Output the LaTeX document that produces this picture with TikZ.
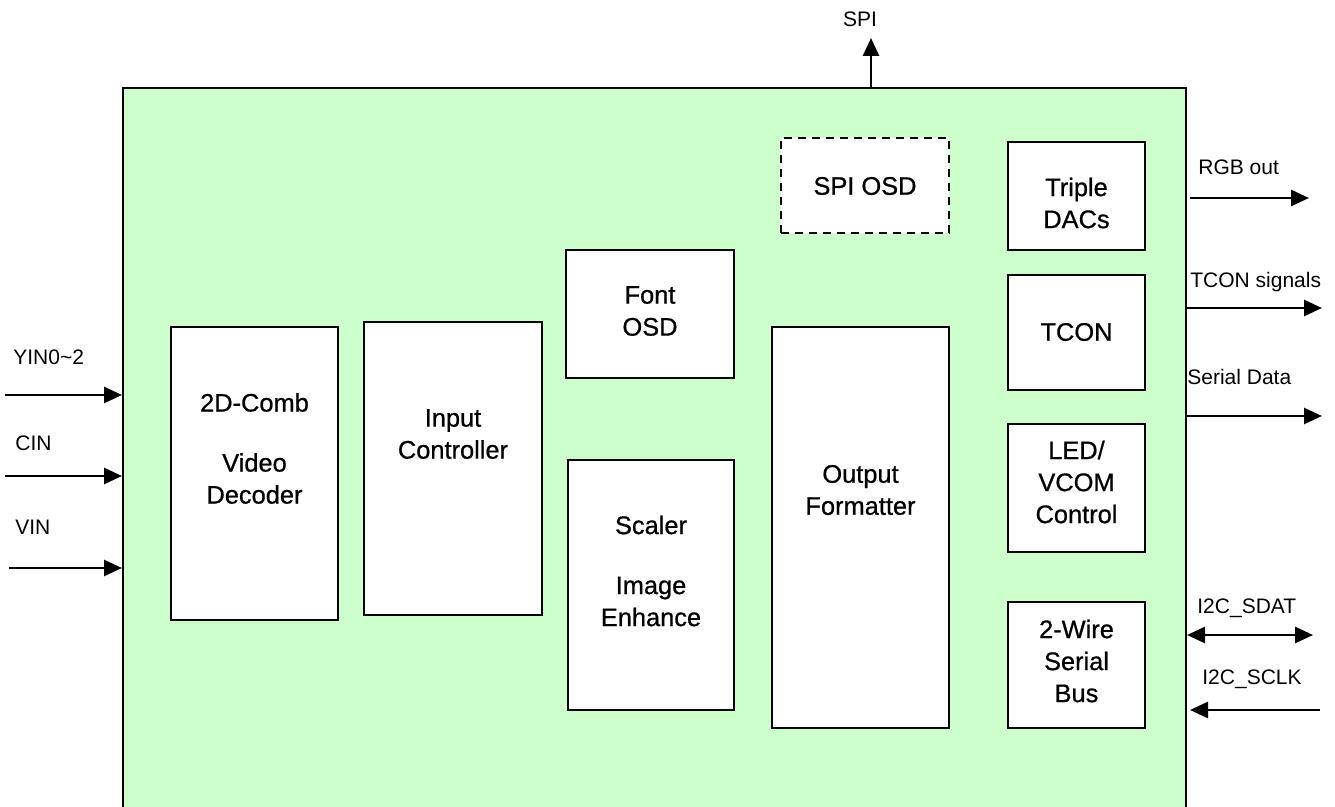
\documentclass[tikz,border=0pt]{standalone}
\usepackage{fontspec}
\setmainfont{Liberation Sans}
\newfontfamily\blkfam{Liberation Sans}[FakeBold=0.7]
\usepackage{tikz}
\usetikzlibrary{arrows.meta}

\definecolor{chipgreen}{HTML}{CCFFCC}
\newcommand{\blkfont}{\blkfam\fontsize{12.7}{16}\selectfont}
\newcommand{\lblfont}{\fontsize{10.5}{12.6}\selectfont}

\tikzset{
  blk/.style={draw,line width=1pt,fill=white,inner sep=0pt},
  txt/.style={align=center,inner sep=0pt,font=\blkfont},
  lbl/.style={inner sep=0pt,font=\lblfont,anchor=base west},
  arr/.style={line width=1.4pt,-{Triangle[length=9pt,width=8pt]}},
  biarr/.style={line width=1.4pt,{Triangle[length=9pt,width=8pt]}-{Triangle[length=9pt,width=8pt]}}
}

\begin{document}
\begin{tikzpicture}[x=0.5pt,y=-0.5pt]
\clip (0,0) rectangle (1335,807);

% chip outline, runs off the bottom
\node[draw,line width=1pt,fill=chipgreen,minimum width=531.5pt,minimum height=406pt] (chip) at (654.5,494) {};

% inner blocks
\node[blk,minimum width=83.5pt,minimum height=146.5pt] (dec) at (254.5,473.5) {};
\node[txt] (dectxt) at (254.5,448.5) {2D-Comb\\[14pt]Video\\Decoder};

\node[blk,minimum width=89pt,minimum height=146.5pt] (ic) at (453,468.5) {};
\node[txt] (ictxt) at (453,434) {Input\\Controller};

\node[blk,minimum width=84pt,minimum height=64pt] (fosd) at (650,314) {};
\node[txt] (fosdtxt) at (650,311) {Font\\OSD};

\node[blk,minimum width=83pt,minimum height=125pt] (scal) at (651,585) {};
\node[txt] (scaltxt) at (651,571) {Scaler\\[14pt]Image\\Enhance};

\node[blk,minimum width=88.5pt,minimum height=200.5pt] (of) at (860.5,527.5) {};
\node[txt] (oftxt) at (860.5,490) {Output\\Formatter};

\node[blk,dashed,dash pattern=on 4pt off 3pt,minimum width=84pt,minimum height=47.5pt] (sosd) at (865,185.5) {};
\node[txt] (sosdtxt) at (865,186) {SPI OSD};

\node[blk,minimum width=68.5pt,minimum height=54pt] (dac) at (1076.5,196) {};
\node[txt] (dactxt) at (1076.5,203) {Triple\\DACs};

\node[blk,minimum width=68.5pt,minimum height=57.5pt] (tcon) at (1076.5,332.5) {};
\node[txt] (tcontxt) at (1076.5,332) {TCON};

\node[blk,minimum width=68.5pt,minimum height=64pt] (led) at (1076.5,488) {};
\node[txt] (ledtxt) at (1076.5,482) {LED/\\VCOM\\Control};

\node[blk,minimum width=68.5pt,minimum height=63pt] (twb) at (1076.5,665) {};
\node[txt] (twbtxt) at (1076.5,661) {2-Wire\\Serial\\Bus};

% inputs
\coordinate (yin) at (5,395);
\coordinate (cin) at (5,476);
\coordinate (vin) at (9,568);
\draw[arr] (yin) -- (yin -| chip.west);
\draw[arr] (cin) -- (cin -| chip.west);
\draw[arr] (vin) -- (vin -| chip.west);
\node[lbl] (yinl) at (13,365) {YIN0\textasciitilde 2};
\node[lbl] (cinl) at (15,451) {CIN};
\node[lbl] (vinl) at (15,535) {VIN};

% SPI on top
\coordinate (spitip) at (871,38);
\draw[arr] (spitip |- chip.north) -- (spitip);
\node[lbl,anchor=base] (spil) at (860,27) {SPI};

% outputs
\coordinate (rgbend) at (1309,198);
\coordinate (tconend) at (1322,308);
\coordinate (sdend) at (1322,416);
\coordinate (sdatend) at (1313,635);
\coordinate (sclkin) at (1320,710);
\draw[arr] ([xshift=1.5pt]rgbend -| chip.east) -- (rgbend);
\draw[arr] (tconend -| chip.east) -- (tconend);
\draw[arr] (sdend -| chip.east) -- (sdend);
\draw[biarr] (sdatend -| chip.east) -- (sdatend);
\draw[arr] (sclkin) -- ([xshift=1.5pt]sclkin -| chip.east);
\node[lbl] (rgbl) at (1198,175) {RGB out};
\node[lbl] (tconl) at (1190,288) {TCON signals};
\node[lbl] (sdl) at (1187,385) {Serial Data};
\node[lbl] (sdatl) at (1197,614) {I2C\_SDAT};
\node[lbl] (sclkl) at (1202,685) {I2C\_SCLK};
\end{tikzpicture}
\end{document}
